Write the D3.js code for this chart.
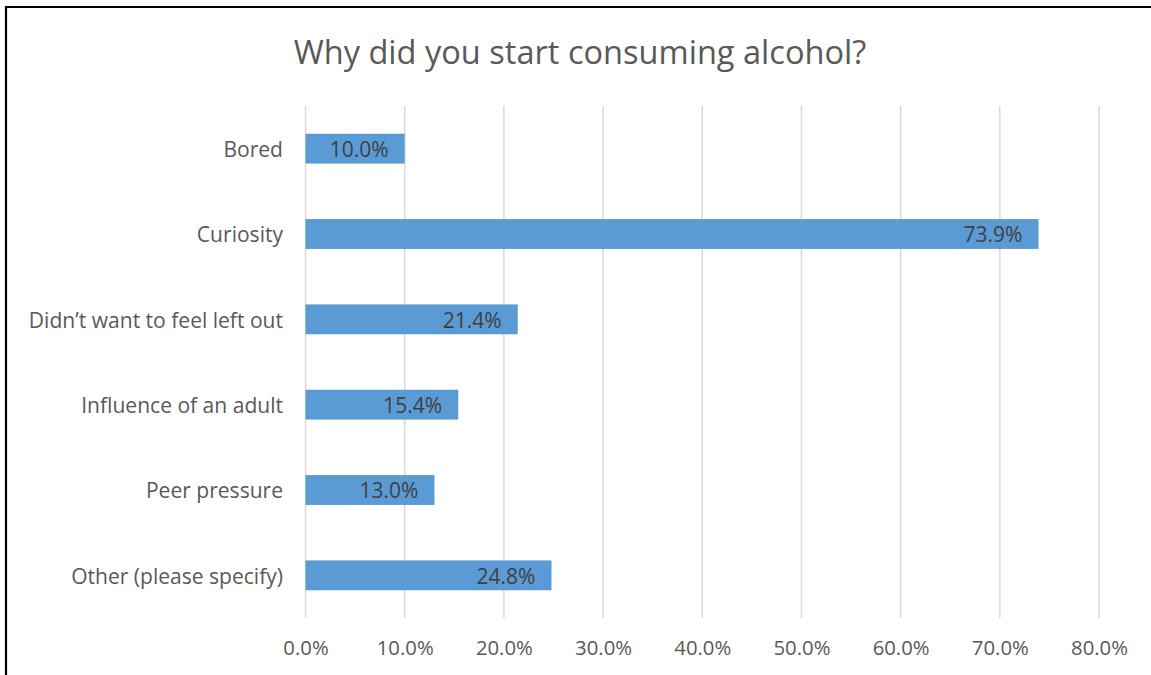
<!DOCTYPE html>
<html>
<head>
<meta charset="utf-8">
<script src="https://cdn.jsdelivr.net/npm/d3@7"></script>
<style>
  html, body { margin: 0; padding: 0; background: #fff; }
  svg { display: block; }
</style>
</head>
<body>
<svg id="chart" width="1151" height="675"></svg>
<script>
// Survey responses: reasons for starting to consume alcohol (share of respondents)
const categories = [
  "Bored",
  "Curiosity",
  "Didn\u2019t want to feel left out",
  "Influence of an adult",
  "Peer pressure",
  "Other (please specify)"
];
const shares = [10.0, 73.9, 21.4, 15.4, 13.0, 24.8];
const tickValues = [0, 10, 20, 30, 40, 50, 60, 70, 80];
const titleText = "Why did you start consuming alcohol?";

const svg = d3.select("#chart");
const W = 1151, H = 675;
const font = "'Open Sans', Lato, sans-serif";

// pick a font size so that a sample string spans the wanted width
function fitSize(sample, width, base) {
  const t = svg.append("text").attr("font-family", font).attr("font-size", base).text(sample);
  const w = t.node().getComputedTextLength();
  t.remove();
  return base * width / w;
}
const titleSize = fitSize(titleText, 573, 30);
const catSize = fitSize("Other (please specify)", 212, 19);
const tickSize = fitSize("80.0%", 57, 19);
const valSize = fitSize("73.9%", 59, 19);

// outer frame (left and top edges visible)
svg.append("rect").attr("x", 0).attr("y", 0).attr("width", W).attr("height", H).attr("fill", "#fff");
svg.append("path")
  .attr("d", `M6,${H} L6,7 L${W},7`)
  .attr("fill", "none").attr("stroke", "#000").attr("stroke-width", 2.2);

const plot = { left: 305.5, right: 1099, top: 106, bottom: 618 };

const x = d3.scaleLinear().domain([0, 80]).range([plot.left, plot.right]);
const y = d3.scaleBand().domain(categories).range([plot.top, plot.bottom]).paddingInner(0.65).paddingOuter(0.325);

// title
svg.append("text")
  .attr("x", 580).attr("y", 64)
  .attr("text-anchor", "middle")
  .attr("font-family", font).attr("font-size", titleSize)
  .attr("fill", "#595959")
  .text(titleText);

// vertical gridlines
svg.append("g").selectAll("line").data(tickValues).join("line")
  .attr("x1", d => x(d)).attr("x2", d => x(d))
  .attr("y1", plot.top).attr("y2", plot.bottom)
  .attr("stroke", "#D9D9D9").attr("stroke-width", 1.5);

// x axis tick labels
const xAxis = d3.axisBottom(x).tickValues(tickValues).tickSize(0).tickPadding(0)
  .tickFormat(d => d3.format(".1f")(d) + "%");
const gx = svg.append("g").attr("transform", `translate(0,${plot.bottom + 23})`).call(xAxis);
gx.select(".domain").remove();
gx.selectAll("text")
  .attr("font-family", font).attr("font-size", tickSize).attr("fill", "#595959");

// category labels
const yAxis = d3.axisLeft(y).tickSize(0).tickPadding(0);
const gy = svg.append("g").attr("transform", `translate(283,1.5)`).call(yAxis);
gy.select(".domain").remove();
gy.selectAll("text")
  .attr("font-family", font).attr("font-size", catSize).attr("fill", "#595959");

// bars
svg.append("g").selectAll("rect").data(categories).join("rect")
  .attr("x", x(0))
  .attr("y", d => y(d))
  .attr("width", (d, i) => x(shares[i]) - x(0))
  .attr("height", y.bandwidth())
  .attr("fill", "#5B9BD5");

// value labels, inside the end of each bar
svg.append("g").selectAll("text").data(categories).join("text")
  .attr("x", (d, i) => x(shares[i]) - 16)
  .attr("y", d => y(d) + y.bandwidth() / 2 + 1)
  .attr("dy", "0.35em")
  .attr("text-anchor", "end")
  .attr("font-family", font).attr("font-size", valSize)
  .attr("fill", "#404040")
  .text((d, i) => d3.format(".1f")(shares[i]) + "%");
</script>
</body>
</html>
